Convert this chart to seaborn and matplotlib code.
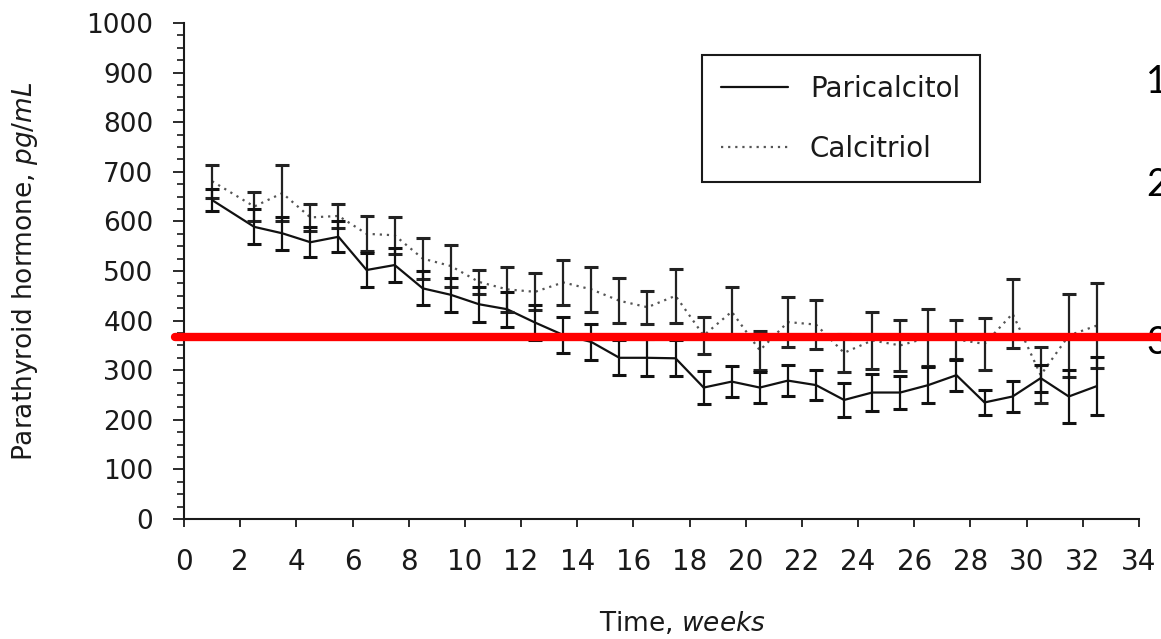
import matplotlib
matplotlib.use("Agg")
import matplotlib.pyplot as plt
from matplotlib.ticker import MultipleLocator
import numpy as np
import pandas as pd
import seaborn as sns

# ---- data ----
weeks = [1, 2.5, 3.5, 4.5, 5.5, 6.5, 7.5, 8.5, 9.5, 10.5, 11.5, 12.5, 13.5, 14.5,
         15.5, 16.5, 17.5, 18.5, 19.5, 20.5, 21.5, 22.5, 23.5, 24.5, 25.5, 26.5,
         27.5, 28.5, 29.5, 30.5, 31.5, 32.5]
paricalcitol = [643, 589, 576, 558, 569, 502, 512, 465, 452, 433, 423, 396, 371, 357,
                325, 325, 324, 265, 277, 265, 279, 270, 240, 255, 255, 270,
                290, 235, 247, 284, 247, 268]
paricalcitol_err = [22, 35, 33, 30, 31, 34, 34, 34, 34, 35, 35, 35, 37, 36,
                    35, 37, 36, 33, 31, 32, 31, 31, 34, 37, 34, 37,
                    31, 25, 32, 27, 54, 58]
calcitriol = [681, 630, 657, 608, 611, 575, 572, 525, 510, 478, 463, 458, 477, 463,
              440, 427, 450, 370, 418, 340, 397, 392, 335, 360, 350, 366,
              362, 353, 414, 290, 370, 390]
calcitriol_err = [33, 30, 57, 28, 25, 35, 37, 41, 42, 24, 46, 37, 46, 45,
                  45, 33, 55, 37, 49, 40, 50, 50, 38, 58, 51, 57,
                  40, 52, 70, 57, 84, 85]
series_names = ["Paricalcitol", "Calcitriol"]
target_line = 366
side_labels = ["1", "2", "3"]

x_ticks = list(range(0, 35, 2))
y_ticks = list(range(0, 1001, 100))

df = pd.DataFrame({
    "week": weeks * 2,
    "pth": paricalcitol + calcitriol,
    "drug": [series_names[0]] * len(weeks) + [series_names[1]] * len(weeks),
})

sns.set_theme(style="ticks")
plt.rcParams["font.family"] = ["DejaVu Sans"]
plt.rcParams["mathtext.fontset"] = "custom"
plt.rcParams["mathtext.it"] = "DejaVu Sans:italic"
plt.rcParams["mathtext.rm"] = "DejaVu Sans"

fig = plt.figure(figsize=(11.61, 6.39), dpi=100)
ax = fig.add_axes([184 / 1161, 1 - 519 / 639, (1139 - 184) / 1161, (519 - 23) / 639])

palette = {series_names[0]: "#111111", series_names[1]: "#555555"}
dashes = {series_names[0]: "", series_names[1]: (1, 2.2)}
sns.lineplot(data=df, x="week", y="pth", hue="drug", style="drug",
             palette=palette, dashes=dashes, linewidth=1.6, ax=ax, legend=True)

ax.errorbar(weeks, calcitriol, yerr=calcitriol_err, fmt="none", ecolor="#222222",
            elinewidth=1.6, capsize=5, capthick=2.2, zorder=3)
ax.errorbar(weeks, paricalcitol, yerr=paricalcitol_err, fmt="none", ecolor="#111111",
            elinewidth=1.6, capsize=5, capthick=2.2, zorder=3)

ax.axhline(target_line, xmin=-0.009, xmax=1.03, color="#ff0000", lw=6,
           clip_on=False, zorder=6)

ax.set_xlim(0, 34)
ax.set_ylim(0, 1000)
ax.set_xticks(x_ticks)
ax.set_yticks(y_ticks)
ax.yaxis.set_minor_locator(MultipleLocator(25))
ax.tick_params(axis="y", which="major", length=8, width=1.3, labelsize=19, pad=14,
               colors="#1a1a1a")
ax.tick_params(axis="y", which="minor", length=5, width=1.2, colors="#1a1a1a", left=True)
ax.tick_params(axis="x", which="major", length=6, width=1.3, labelsize=20, pad=15,
               colors="#1a1a1a")
for s in ["top", "right"]:
    ax.spines[s].set_visible(False)
for s in ["left", "bottom"]:
    ax.spines[s].set_linewidth(1.5)
    ax.spines[s].set_color("#1a1a1a")

ax.set_xlabel("")
ax.set_ylabel("")
fig.text(682 / 1161, 1 - 624 / 639, r"Time, $\it{weeks}$", ha="center", va="center",
         fontsize=19, color="#1a1a1a")
fig.text(25 / 1161, 1 - 271 / 639, r"Parathyroid hormone, $\it{pg/mL}$", ha="center",
         va="center", rotation=90, fontsize=19, color="#1a1a1a")

handles, labels = ax.get_legend_handles_labels()
leg = ax.legend(handles, labels, loc="upper left", bbox_to_anchor=(0.542, 0.935),
                frameon=True, fancybox=False, framealpha=1, fontsize=20,
                handlelength=2.4, handletextpad=0.8, labelspacing=1.15,
                borderpad=0.7, borderaxespad=0)
leg.get_frame().set_edgecolor("#1a1a1a")
leg.get_frame().set_linewidth(1.5)
for t in leg.get_texts():
    t.set_color("#1a1a1a")

side_y = [82, 185, 343]
for lab, yy in zip(side_labels, side_y):
    ax.text(1146 / 1161, 1 - yy / 639, lab, transform=fig.transFigure, ha="left",
            va="center", fontsize=27, family=["Lato", "DejaVu Sans"], color="black",
            zorder=1, clip_on=False)

fig.savefig("out.png", dpi=100)
